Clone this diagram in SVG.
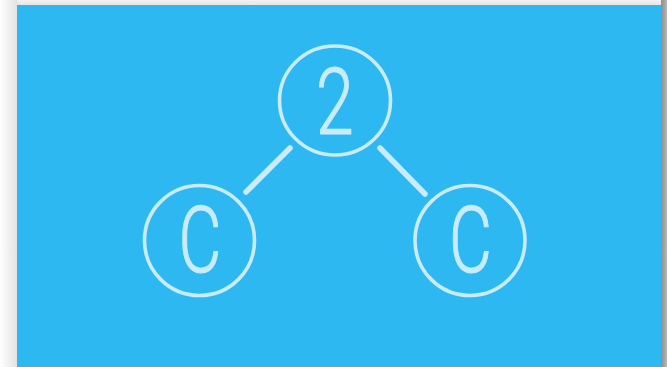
<svg xmlns="http://www.w3.org/2000/svg" width="667" height="367" viewBox="0 0 667 367">
  <defs>
    <linearGradient id="lshade" x1="0" y1="0" x2="1" y2="0">
      <stop offset="0" stop-color="#ffffff"/>
      <stop offset="1" stop-color="#e2e2e2"/>
    </linearGradient>
    <linearGradient id="rshade" x1="0" y1="0" x2="1" y2="0">
      <stop offset="0" stop-color="#8c8c8c"/>
      <stop offset="1" stop-color="#b8b8b8"/>
    </linearGradient>
    <linearGradient id="tshade" x1="0" y1="0" x2="0" y2="1">
      <stop offset="0" stop-color="#f2f2f2"/>
      <stop offset="1" stop-color="#e6e6e6"/>
    </linearGradient>
  </defs>
  <style>
    .ring { fill: none; stroke: #c8ecfb; stroke-width: 3.6; }
    .edge { stroke: #c8ecfb; stroke-width: 5.5; stroke-linecap: round; }
    .lbl { font-family: Roboto, "Liberation Sans", sans-serif; font-weight: 300; font-size: 92px; fill: #c8ecfb; stroke: #c8ecfb; stroke-width: 1.1; stroke-linejoin: round; text-anchor: middle; }
  </style>
  <rect x="0" y="0" width="667" height="367" fill="#f7f7f7"/>
  <rect x="0" y="0" width="17" height="367" fill="url(#lshade)"/>
  <rect x="17" y="0" width="644" height="5" fill="url(#tshade)"/>
  <rect x="661" y="0" width="6" height="367" fill="url(#rshade)"/>
  <rect x="17" y="5" width="644" height="362" fill="#2eb8f2"/>

  <g id="connectors">
    <line class="edge" x1="290" y1="148" x2="246" y2="192"/>
    <line class="edge" x1="380" y1="148" x2="425" y2="194"/>
  </g>

  <g id="node-2">
    <ellipse class="ring" cx="335" cy="100.5" rx="55.5" ry="54.5"/>
    <text class="lbl" transform="translate(335,134) scale(0.74,1)">2</text>
  </g>
  <g id="node-c-left">
    <ellipse class="ring" cx="199.5" cy="240.5" rx="55" ry="55"/>
    <text class="lbl" transform="translate(200,272) scale(0.72,1)">C</text>
  </g>
  <g id="node-c-right">
    <ellipse class="ring" cx="470" cy="240.5" rx="55" ry="55"/>
    <text class="lbl" transform="translate(470.5,272) scale(0.72,1)">C</text>
  </g>
</svg>
